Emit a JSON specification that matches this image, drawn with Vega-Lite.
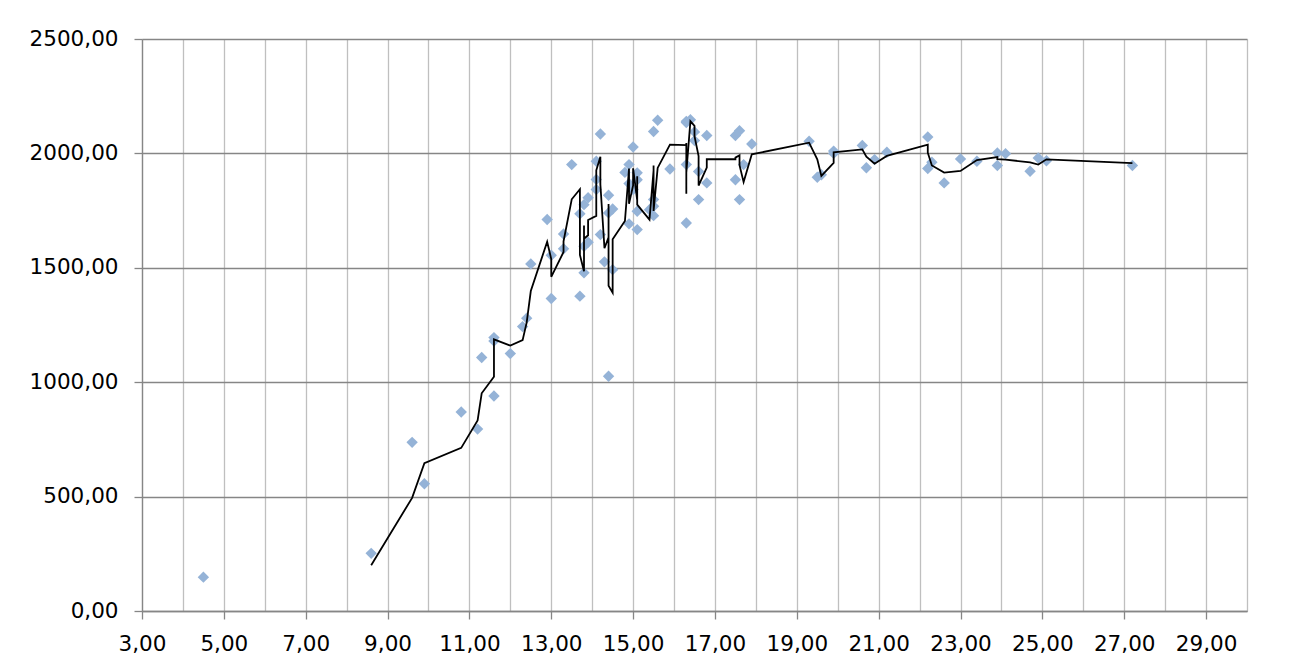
{
  "$schema": "https://vega.github.io/schema/vega-lite/v6.json",
  "width": 1105,
  "height": 572,
  "autosize": {"type": "none"},
  "padding": {"left": 142, "top": 39, "right": 64, "bottom": 55},
  "background": "white",
  "config": {
    "view": {"stroke": null},
    "axis": {
      "labelFont": "DejaVu Sans",
      "labelFontSize": 21.5,
      "labelColor": "#000000",
      "domainColor": "#868686",
      "domainWidth": 1.3,
      "tickColor": "#868686",
      "tickWidth": 1.3,
      "tickSize": 8,
      "title": null
    }
  },
  "data": {
    "values": [
      {"x": 4.5, "y": 148}, {"x": 8.6, "y": 252}, {"x": 9.6, "y": 737}, {"x": 9.9, "y": 556},
      {"x": 10.8, "y": 870}, {"x": 11.2, "y": 795}, {"x": 11.3, "y": 1108}, {"x": 11.6, "y": 940},
      {"x": 11.6, "y": 1180}, {"x": 11.6, "y": 1195}, {"x": 12.0, "y": 1125}, {"x": 12.3, "y": 1243},
      {"x": 12.4, "y": 1280}, {"x": 12.5, "y": 1517}, {"x": 12.9, "y": 1711}, {"x": 13.0, "y": 1366},
      {"x": 13.0, "y": 1555}, {"x": 13.3, "y": 1583}, {"x": 13.3, "y": 1648}, {"x": 13.5, "y": 1951},
      {"x": 13.7, "y": 1736}, {"x": 13.7, "y": 1376}, {"x": 13.8, "y": 1594}, {"x": 13.8, "y": 1776},
      {"x": 13.8, "y": 1478}, {"x": 13.9, "y": 1806}, {"x": 13.9, "y": 1612}, {"x": 14.1, "y": 1842},
      {"x": 14.1, "y": 1966}, {"x": 14.1, "y": 1886}, {"x": 14.2, "y": 2085}, {"x": 14.2, "y": 1645},
      {"x": 14.3, "y": 1526}, {"x": 14.4, "y": 1740}, {"x": 14.4, "y": 1817}, {"x": 14.4, "y": 1026},
      {"x": 14.5, "y": 1757}, {"x": 14.5, "y": 1492}, {"x": 14.8, "y": 1917}, {"x": 14.9, "y": 1951},
      {"x": 14.9, "y": 1868}, {"x": 14.9, "y": 1692}, {"x": 15.0, "y": 2028}, {"x": 15.0, "y": 1842},
      {"x": 15.1, "y": 1747}, {"x": 15.1, "y": 1915}, {"x": 15.1, "y": 1885}, {"x": 15.1, "y": 1667},
      {"x": 15.4, "y": 1754}, {"x": 15.5, "y": 2096}, {"x": 15.5, "y": 1798}, {"x": 15.5, "y": 1769},
      {"x": 15.5, "y": 1728}, {"x": 15.6, "y": 2145}, {"x": 15.9, "y": 1932}, {"x": 16.3, "y": 2140},
      {"x": 16.3, "y": 1951}, {"x": 16.3, "y": 1696}, {"x": 16.3, "y": 2135}, {"x": 16.4, "y": 2147},
      {"x": 16.5, "y": 2094}, {"x": 16.5, "y": 2056}, {"x": 16.6, "y": 1921}, {"x": 16.6, "y": 1798},
      {"x": 16.8, "y": 2078}, {"x": 16.8, "y": 1871}, {"x": 17.5, "y": 2078}, {"x": 17.5, "y": 1885},
      {"x": 17.6, "y": 2099}, {"x": 17.6, "y": 1798}, {"x": 17.7, "y": 1951}, {"x": 17.9, "y": 2041},
      {"x": 19.3, "y": 2053}, {"x": 19.5, "y": 1896}, {"x": 19.6, "y": 1907}, {"x": 19.9, "y": 2010},
      {"x": 19.9, "y": 2000}, {"x": 20.6, "y": 2035}, {"x": 20.7, "y": 1937}, {"x": 20.9, "y": 1973},
      {"x": 21.2, "y": 2005}, {"x": 22.2, "y": 2072}, {"x": 22.2, "y": 1934}, {"x": 22.3, "y": 1961},
      {"x": 22.6, "y": 1871}, {"x": 23.0, "y": 1976}, {"x": 23.4, "y": 1966}, {"x": 23.9, "y": 2002},
      {"x": 23.9, "y": 1947}, {"x": 24.1, "y": 1999}, {"x": 24.7, "y": 1922}, {"x": 24.9, "y": 1980},
      {"x": 25.1, "y": 1968}, {"x": 27.2, "y": 1947}
    ]
  },
  "encoding": {
    "x": {
      "field": "x",
      "type": "quantitative",
      "scale": {"domain": [3, 30], "nice": false, "zero": false},
      "axis": {
        "values": [3, 4, 5, 6, 7, 8, 9, 10, 11, 12, 13, 14, 15, 16, 17, 18, 19, 20, 21, 22, 23, 24, 25, 26, 27, 28, 29, 30],
        "labelExpr": "datum.value % 2 == 1 ? replace(format(datum.value, '.2f'), '.', ',') : ''",
        "labelPadding": 14,
        "labelFlush": false,
        "labelOverlap": false,
        "tickOpacity": {"condition": {"test": "datum.value % 2 == 0", "value": 0}, "value": 1},
        "grid": true,
        "gridColor": "#bfbfbf",
        "gridWidth": 1.3
      }
    },
    "y": {
      "field": "y",
      "type": "quantitative",
      "scale": {"domain": [0, 2500], "nice": false},
      "axis": {
        "values": [0, 500, 1000, 1500, 2000, 2500],
        "labelExpr": "replace(format(datum.value, '.2f'), '.', ',')",
        "labelPadding": 16,
        "grid": true,
        "gridColor": "#868686",
        "gridWidth": 1.4
      }
    }
  },
  "layer": [
    {
      "mark": {"type": "point", "shape": "diamond", "filled": true, "size": 130, "color": "#95B3D7", "opacity": 1}
    },
    {
      "transform": [
        {"window": [{"op": "mean", "field": "y", "as": "ma"}, {"op": "row_number", "as": "rn"}], "frame": [-1, 0]},
        {"filter": "datum.rn > 1"}
      ],
      "mark": {"type": "line", "color": "#000000", "strokeWidth": 1.8},
      "encoding": {
        "y": {"field": "ma", "type": "quantitative"},
        "order": {"field": "rn", "type": "quantitative"}
      }
    }
  ]
}
